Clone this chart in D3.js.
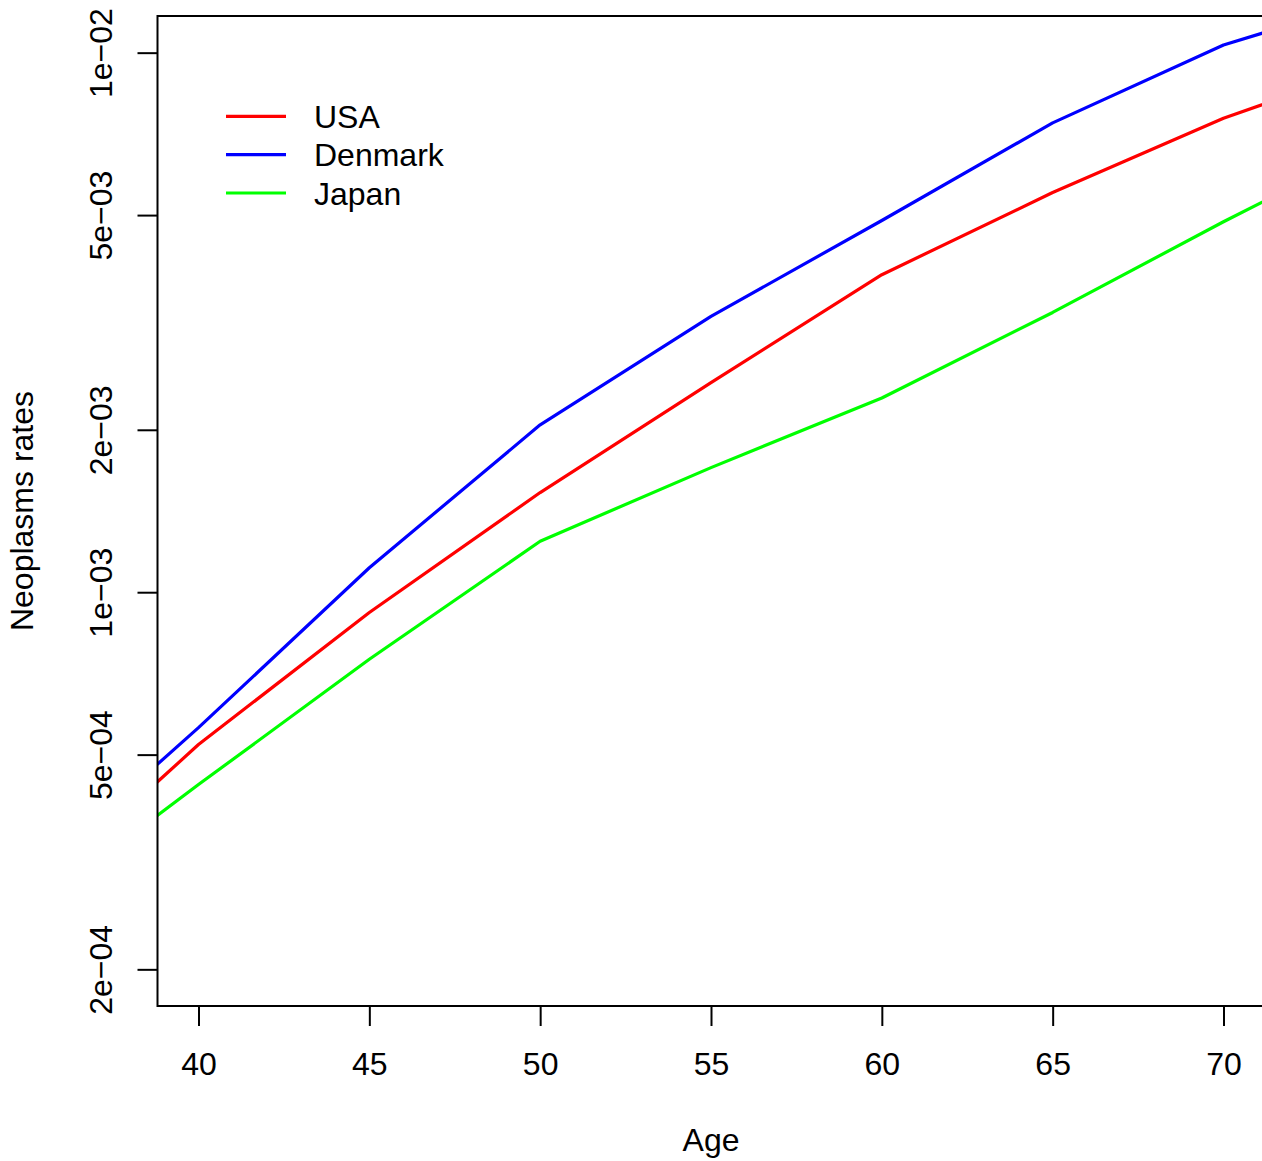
<!DOCTYPE html>
<html lang="en">
<head>
<title>Neoplasms rates</title>
<meta charset="utf-8">
<script src="https://d3js.org/d3.v7.min.js"></script>
<style>
	body { margin: 0; background: #fff; }
	text { font-family: "Liberation Sans", Arial, sans-serif; fill: #000; }
</style>
</head>
<body>
<div id="rates_viz"></div>

<script type="text/javascript">
	// data (log scale)
	var ages = [35, 40, 45, 50, 55, 60, 65, 70, 75];
	var usa = [2.69e-4, 5.22e-4, 9.17e-4, 1.53e-3, 2.445e-3, 3.877e-3, 5.505e-3, 7.56e-3, 9.76e-3];
	var denmark = [2.93e-4, 5.61e-4, 1.11e-3, 2.043e-3, 3.245e-3, 4.886e-3, 7.41e-3, 1.033e-2, 1.293e-2];
	var japan = [2.55e-4, 4.40e-4, 7.51e-4, 1.243e-3, 1.702e-3, 2.291e-3, 3.30e-3, 4.86e-3, 7.04e-3];

	var series_names = ['USA', 'Denmark', 'Japan'];
	var series_colors = ['#ff0000', '#0000ff', '#00ff00'];

	var x_ticks = [40, 45, 50, 55, 60, 65, 70];
	var y_ticks = [2e-4, 5e-4, 1e-3, 2e-3, 5e-3, 1e-2];
	var y_tick_labels = ['2e\u221204', '5e\u221204', '1e\u221203', '2e\u221203', '5e\u221203', '1e\u221202'];
	var xlim = [40, 70],
		ylim = [2e-4, 1e-2];

	var margin = {top: 16, left: 157.5},
		width = 1107,
		height = 990,
		font_size = 32;

	var svg = d3.select("#rates_viz")
				.append("svg")
				.attr("width", 1262)
				.attr("height", 1161);

	var comp = svg.append("g")
				  .attr("transform", "translate(" + margin.left + "," + margin.top + ")");

	// R style 4% padding on both axes
	var xpad = (xlim[1] - xlim[0]) * 0.04;
	var x = d3.scaleLinear()
			  .domain([xlim[0] - xpad, xlim[1] + xpad])
			  .range([0, width]);

	var lo = Math.log10(ylim[0]), hi = Math.log10(ylim[1]),
		ypad = (hi - lo) * 0.04;
	var y = d3.scaleLog()
			  .domain([Math.pow(10, lo - ypad), Math.pow(10, hi + ypad)])
			  .range([height, 0]);

	comp.append("clipPath")
		.attr("id", "plot_clip")
		.append("rect")
		.attr("width", width)
		.attr("height", height);

	// lines
	var all_series = [usa, denmark, japan];
	var line = d3.line()
				 .x(function(d, i) { return x(ages[i]); })
				 .y(function(d) { return y(d); });

	for (var i = 0; i < all_series.length; i++){
		comp.append("path")
			.datum(all_series[i])
			.attr("clip-path", "url(#plot_clip)")
			.attr("fill", "none")
			.attr("stroke", series_colors[i])
			.attr("stroke-width", 3.2)
			.attr("stroke-linejoin", "round")
			.attr("d", line);
	}

	// box
	comp.append("rect")
		.attr("width", width)
		.attr("height", height)
		.attr("fill", "none")
		.attr("stroke", "black")
		.attr("stroke-width", 2);

	// X axis
	var xg = comp.append("g")
				 .attr("transform", "translate(0," + height + ")")
				 .call(d3.axisBottom(x).tickValues(x_ticks).tickSize(20).tickSizeOuter(0).tickPadding(26));
	xg.select(".domain").remove();
	xg.selectAll("line").attr("stroke", "black").attr("stroke-width", 2);
	xg.selectAll("text")
	  .style("font-size", font_size + "px")
	  .style("font-family", "'Liberation Sans', Arial, sans-serif")
	  .attr("fill", "black");

	// Y axis
	var yg = comp.append("g")
				 .call(d3.axisLeft(y).tickValues(y_ticks).tickSize(20).tickSizeOuter(0)
				 		 .tickFormat(function(d, i) { return y_tick_labels[i]; }));
	yg.select(".domain").remove();
	yg.selectAll("line").attr("stroke", "black").attr("stroke-width", 2);
	yg.selectAll("text")
	  .attr("x", null)
	  .attr("dy", null)
	  .attr("text-anchor", "middle")
	  .attr("transform", "translate(-46,0) rotate(-90)")
	  .style("font-size", font_size + "px")
	  .style("font-family", "'Liberation Sans', Arial, sans-serif")
	  .attr("fill", "black");

	// axis titles
	svg.append("text")
	   .attr("text-anchor", "middle")
	   .attr("x", 711)
	   .attr("y", 1151)
	   .style("font-size", font_size + "px")
	   .text("Age");

	svg.append("text")
	   .attr("text-anchor", "middle")
	   .attr("transform", "translate(33," + (margin.top + height / 2) + ") rotate(-90)")
	   .style("font-size", font_size + "px")
	   .text("Neoplasms rates");

	// Legend
	var legend_y = [116.3, 154.7, 193];
	for (var k = 0; k < series_names.length; k++){
		svg.append("line")
		   .attr("x1", 226)
		   .attr("x2", 286)
		   .attr("y1", legend_y[k])
		   .attr("y2", legend_y[k])
		   .attr("stroke", series_colors[k])
		   .attr("stroke-width", 3.2);
		svg.append("text")
		   .attr("x", 314)
		   .attr("y", legend_y[k] + 11.5)
		   .style("font-size", font_size + "px")
		   .text(series_names[k]);
	}
</script>

</body>
</html>
